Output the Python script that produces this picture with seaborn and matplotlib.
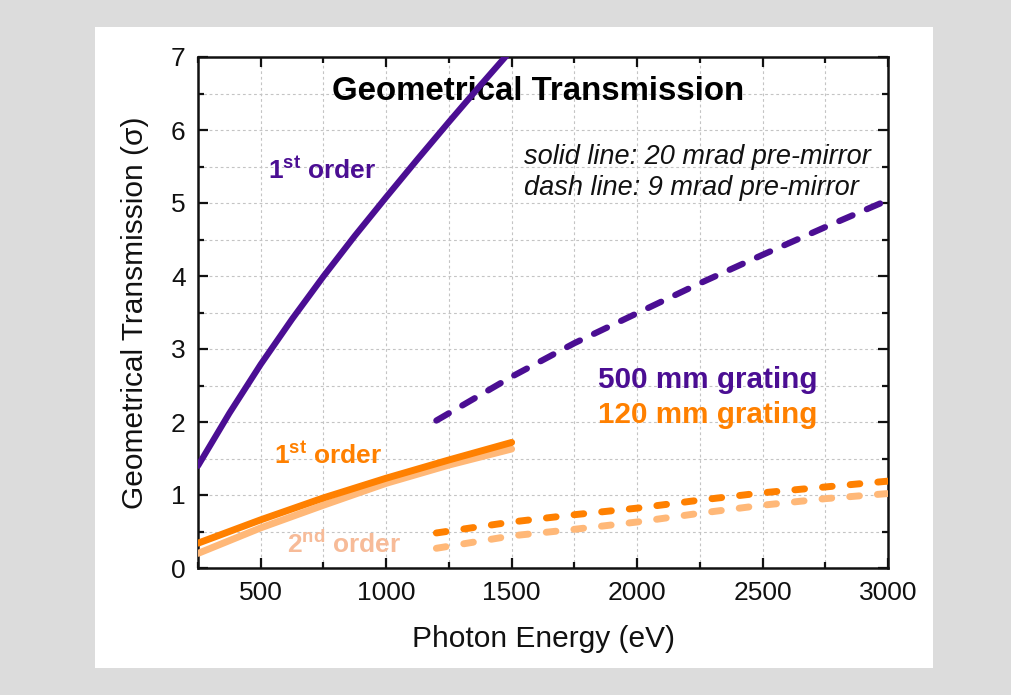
import numpy as np
import pandas as pd
import matplotlib
matplotlib.use("Agg")
import matplotlib.pyplot as plt
from matplotlib.patches import Rectangle
from matplotlib.ticker import MultipleLocator
import seaborn as sns

# ---- data (photon energy in eV, geometrical transmission in sigma) ----
e_500_solid = [250, 375, 500, 625, 750, 875, 1000, 1125, 1250, 1375, 1500]
t_500_solid = [1.40, 2.12, 2.79, 3.41, 3.995, 4.55, 5.08, 5.60, 6.11, 6.61, 7.10]

e_500_dash = [1200, 1500, 1750, 2000, 2250, 2500, 2750, 3000]
t_500_dash = [2.02, 2.62, 3.08, 3.49, 3.90, 4.29, 4.67, 5.04]

e_120_solid = [250, 500, 750, 1000, 1250, 1500]
t_120_1st_solid = [0.34, 0.66, 0.96, 1.23, 1.48, 1.72]
t_120_2nd_solid = [0.20, 0.55, 0.86, 1.16, 1.41, 1.63]

e_120_dash = [1200, 1500, 1750, 2000, 2250, 2500, 2750, 3000]
t_120_1st_dash = [0.48, 0.63, 0.73, 0.82, 0.93, 1.03, 1.11, 1.19]
t_120_2nd_dash = [0.27, 0.44, 0.53, 0.63, 0.75, 0.86, 0.95, 1.02]

x_ticks = [500, 1000, 1500, 2000, 2500, 3000]
y_ticks = [0, 1, 2, 3, 4, 5, 6, 7]

PURPLE = "#4b0e93"
ORANGE = "#ff8000"
LIGHT = "#ffb878"
LIGHT_TEXT = "#f7bb98"

sns.set_theme(style="ticks")
plt.rcParams["font.family"] = ["Liberation Sans", "DejaVu Sans"]
plt.rcParams["mathtext.fontset"] = "custom"
plt.rcParams["mathtext.rm"] = "Liberation Sans"
plt.rcParams["mathtext.bf"] = "Liberation Sans:bold"
plt.rcParams["mathtext.it"] = "Liberation Sans:italic"

fig = plt.figure(figsize=(10.12, 6.95), dpi=100)
fig.patch.set_facecolor("#dcdcdc")
fig.patches.append(Rectangle((95 / 1012, 27 / 695), 838 / 1012, 641 / 695,
                             transform=fig.transFigure, facecolor="white",
                             edgecolor="none", zorder=-5))

ax = fig.add_axes([198 / 1012, 127 / 695, 690 / 1012, 511 / 695])
ax.set_facecolor("white")

def series(x, y):
    return pd.DataFrame({"energy": x, "trans": y})

cap = dict(solid_capstyle="round", dash_capstyle="round")

sns.lineplot(data=series(e_500_solid, t_500_solid), x="energy", y="trans",
             ax=ax, color=PURPLE, lw=4.5, zorder=5, **cap)
sns.lineplot(data=series(e_500_dash, t_500_dash), x="energy", y="trans",
             ax=ax, color=PURPLE, lw=4.5, linestyle=(0, (2.3, 2.5)), zorder=5, **cap)
sns.lineplot(data=series(e_120_solid, t_120_2nd_solid), x="energy", y="trans",
             ax=ax, color=LIGHT, lw=5.0, zorder=4, **cap)
sns.lineplot(data=series(e_120_solid, t_120_1st_solid), x="energy", y="trans",
             ax=ax, color=ORANGE, lw=5.0, zorder=5, **cap)
sns.lineplot(data=series(e_120_dash, t_120_2nd_dash), x="energy", y="trans",
             ax=ax, color=LIGHT, lw=5.0, linestyle=(0, (1.4, 2.6)), zorder=4, **cap)
sns.lineplot(data=series(e_120_dash, t_120_1st_dash), x="energy", y="trans",
             ax=ax, color=ORANGE, lw=5.0, linestyle=(0, (1.4, 2.6)), zorder=5, **cap)

ax.set_xlim(250, 3000)
ax.set_ylim(0, 7)
ax.set_xticks(x_ticks)
ax.set_yticks(y_ticks)
ax.xaxis.set_minor_locator(MultipleLocator(250))
ax.yaxis.set_minor_locator(MultipleLocator(0.5))

ax.grid(True, which="both", color="#c4c4c4", linestyle=(0, (2.5, 2.5)), linewidth=0.8)
ax.set_axisbelow(True)

for s in ax.spines.values():
    s.set_linewidth(1.8)
    s.set_color("#111111")
    s.set_visible(True)

ax.tick_params(which="both", direction="in", top=True, right=True, width=1.6,
               color="#111111")
ax.tick_params(which="major", length=7, labelsize=19, pad=9, labelcolor="#111111")
ax.tick_params(which="minor", length=4.5)

ax.set_xlabel("Photon Energy (eV)", fontsize=21.5, labelpad=15, color="#111111")
ax.set_ylabel("Geometrical Transmission (σ)", fontsize=21.5, labelpad=16,
              color="#111111")

# ---- annotations ----
ax.text(1606, 6.53, "Geometrical Transmission", fontsize=23.8, fontweight="bold",
        ha="center", va="center", color="black")
ax.text(1550, 5.63, "solid line: 20 mrad pre-mirror", fontsize=19.5, style="italic",
        ha="left", va="center", color="#111111")
ax.text(1550, 5.20, "dash line: 9 mrad pre-mirror", fontsize=19.5, style="italic",
        ha="left", va="center", color="#111111")
ax.text(530, 5.45, r"$\mathbf{1^{st}}$ order", fontsize=19, fontweight="bold",
        ha="left", va="center", color=PURPLE)
ax.text(554, 1.55, r"$\mathbf{1^{st}}$ order", fontsize=19, fontweight="bold",
        ha="left", va="center", color=ORANGE)
ax.text(606, 0.32, r"$\mathbf{2^{nd}}$ order", fontsize=19, fontweight="bold",
        ha="left", va="center", color=LIGHT_TEXT)
ax.text(1846, 2.58, "500 mm grating", fontsize=21.3, fontweight="bold",
        ha="left", va="center", color=PURPLE)
ax.text(1846, 2.10, "120 mm grating", fontsize=21.3, fontweight="bold",
        ha="left", va="center", color=ORANGE)

fig.savefig("out.png", dpi=100, facecolor=fig.get_facecolor())
